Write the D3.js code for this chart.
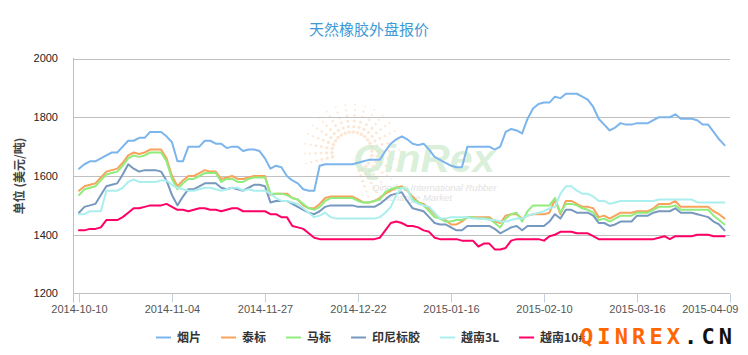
<!DOCTYPE html>
<html><head><meta charset="utf-8">
<script src="https://cdn.jsdelivr.net/npm/d3@7"></script>
<style>body{margin:0;background:#fff}svg{display:block}</style>
</head><body><svg id="c" width="748" height="355"></svg>
<script>
// ---------------- data ----------------
const chartTitle = "天然橡胶外盘报价";
const yTitle = "单位 (美元/吨)";
const xLabels = ["2014-10-10","2014-11-04","2014-11-27","2014-12-22","2015-01-16","2015-02-10","2015-03-16","2015-04-09"];
const labelStep = 17;
const yTicks = [1200, 1400, 1600, 1800, 2000];
const seriesNames = ["烟片","泰标","马标","印尼标胶","越南3L","越南10#"];
const seriesColors = ["#7cb5ec","#f7a35c","#90ed7d","#7798BF","#aaeeee","#ff0066"];

const yanpian = [1625,1640,1650,1650,1660,1670,1680,1680,1700,1720,
1720,1730,1730,1750,1750,1750,1735,1715,1650,1650,
1700,1700,1700,1720,1720,1710,1710,1695,1700,1700,
1685,1690,1690,1685,1660,1625,1635,1630,1600,1585,
1575,1555,1550,1550,1635,1640,1640,1640,1640,1640,
1640,1645,1650,1655,1655,1655,1685,1710,1725,1735,
1725,1710,1705,1710,1690,1665,1655,1645,1635,1630,
1630,1700,1700,1700,1700,1700,1690,1700,1750,1760,
1755,1745,1795,1830,1845,1850,1850,1870,1865,1880,
1880,1880,1870,1860,1835,1795,1775,1755,1765,1780,
1775,1775,1780,1780,1780,1790,1800,1800,1800,1810,
1795,1795,1795,1790,1775,1775,1750,1725,1705];

const taibiao = [1550,1565,1570,1575,1595,1615,1620,1625,1645,1670,
1680,1675,1680,1690,1690,1690,1660,1600,1565,1585,
1600,1600,1610,1620,1615,1615,1590,1595,1600,1590,
1590,1595,1600,1600,1600,1535,1540,1540,1540,1525,
1520,1500,1490,1490,1505,1525,1530,1530,1530,1530,
1530,1520,1510,1510,1515,1525,1540,1550,1560,1565,
1550,1530,1510,1505,1490,1470,1455,1450,1435,1435,
1445,1460,1460,1460,1460,1460,1445,1440,1465,1470,
1470,1455,1465,1470,1470,1470,1475,1520,1470,1515,
1515,1505,1495,1495,1490,1460,1465,1455,1465,1475,
1475,1475,1480,1480,1480,1490,1505,1505,1505,1515,
1495,1495,1495,1495,1495,1495,1480,1470,1455];

const mabiao = [1535,1555,1560,1565,1585,1605,1610,1615,1635,1660,
1670,1665,1670,1680,1680,1680,1650,1590,1555,1575,
1590,1590,1600,1610,1610,1610,1580,1590,1590,1580,
1580,1590,1595,1595,1595,1540,1540,1540,1535,1525,
1520,1505,1490,1485,1495,1515,1525,1525,1525,1525,
1525,1515,1510,1510,1515,1520,1545,1555,1560,1560,
1555,1520,1510,1500,1480,1460,1455,1445,1445,1450,
1450,1460,1460,1455,1455,1455,1440,1425,1455,1470,
1475,1445,1480,1500,1500,1500,1500,1525,1475,1505,
1505,1500,1490,1485,1475,1450,1455,1445,1455,1465,
1465,1465,1475,1475,1475,1485,1495,1495,1495,1500,
1485,1485,1485,1485,1485,1485,1465,1450,1435];

const yinni = [1475,1495,1500,1505,1535,1565,1570,1575,1605,1640,
1625,1615,1620,1620,1620,1615,1585,1535,1500,1530,
1555,1555,1565,1575,1575,1575,1560,1555,1560,1555,
1550,1560,1570,1570,1565,1510,1515,1515,1515,1505,
1495,1485,1475,1470,1480,1495,1500,1500,1500,1500,
1500,1495,1495,1495,1495,1505,1520,1535,1540,1545,
1515,1490,1485,1480,1460,1440,1435,1435,1425,1415,
1415,1430,1430,1430,1430,1430,1420,1405,1415,1425,
1430,1415,1430,1430,1430,1430,1445,1470,1455,1485,
1485,1475,1475,1475,1465,1440,1440,1430,1435,1445,
1445,1445,1465,1465,1465,1475,1480,1480,1480,1490,
1475,1475,1475,1470,1465,1460,1445,1435,1415];

const yuenan3L = [1470,1470,1480,1480,1480,1550,1550,1550,1560,1580,
1588,1580,1580,1580,1580,1585,1585,1570,1560,1555,
1550,1550,1555,1560,1560,1555,1550,1555,1560,1560,
1550,1555,1550,1550,1550,1540,1525,1515,1515,1510,
1505,1490,1475,1460,1465,1475,1460,1455,1455,1455,
1455,1455,1455,1455,1455,1460,1475,1495,1535,1560,
1555,1515,1505,1500,1495,1475,1455,1455,1460,1460,
1460,1460,1455,1455,1455,1450,1450,1445,1445,1450,
1455,1455,1465,1470,1475,1480,1490,1495,1540,1565,
1565,1550,1540,1540,1530,1515,1515,1505,1510,1515,
1515,1515,1515,1515,1515,1515,1520,1520,1520,1520,
1520,1520,1520,1510,1510,1510,1510,1510,1510];

const yuenan10 = [1415,1415,1420,1420,1425,1450,1450,1450,1460,1475,
1490,1490,1495,1500,1500,1500,1505,1495,1485,1485,
1480,1485,1490,1490,1485,1485,1480,1485,1490,1490,
1480,1480,1480,1480,1480,1470,1470,1460,1460,1430,
1425,1420,1405,1390,1385,1385,1385,1385,1385,1385,
1385,1385,1385,1385,1385,1390,1415,1440,1445,1440,
1430,1430,1425,1415,1410,1390,1385,1385,1385,1385,
1380,1380,1380,1360,1370,1370,1350,1350,1355,1380,
1385,1385,1385,1385,1385,1380,1395,1400,1410,1410,
1410,1405,1405,1405,1395,1385,1385,1385,1385,1385,
1385,1385,1385,1385,1385,1385,1390,1395,1385,1395,
1395,1395,1395,1400,1400,1400,1395,1395,1395];

const seriesData = [yanpian, taibiao, mabiao, yinni, yuenan3L, yuenan10];

// ---------------- drawing ----------------
const svg = d3.select("#c");
const nSlots = (xLabels.length - 1) * labelStep; // last label slot
const x = d3.scaleLinear().domain([-1, nSlots]).range([73.5, 730]);
const y = d3.scaleLinear().domain([1200, 2000]).range([293.5, 58.5]);
const left = x(-1), right = x(nSlots);

// title
svg.append("text").attr("x", 369).attr("y", 35).attr("text-anchor", "middle")
  .attr("font-family", "Noto Sans CJK SC, sans-serif").attr("font-size", 15)
  .attr("fill", "#3d9ad6").text(chartTitle);

// watermark logo (behind lines)
const wm = svg.append("g");
const cx = 352, cy = 152;
for (let a = -70; a <= 200; a += 12) {
  const rad = a * Math.PI / 180;
  for (let k = 0; k < 6; k++) {
    const r = 20 + k * 5.5;
    wm.append("circle").attr("cx", cx + r * Math.cos(rad)).attr("cy", cy - r * Math.sin(rad))
      .attr("r", 1.8 - k * 0.18).attr("fill", "#f8c9a2").attr("opacity", 0.45);
  }
}
wm.append("text").attr("x", 353).attr("y", 172).attr("font-family", "Liberation Sans, Arial, sans-serif")
  .attr("font-size", 38).attr("font-weight", "bold").attr("font-style", "italic")
  .attr("textLength", 142).attr("lengthAdjust", "spacingAndGlyphs")
  .attr("fill", "#cfeccf").attr("opacity", 0.75).text("QinRex");
wm.append("text").attr("x", 372).attr("y", 191).attr("font-family", "Liberation Sans, Arial, sans-serif")
  .attr("font-size", 9.5).attr("font-style", "italic").attr("fill", "#e2e2e2").text("Qingdao International Rubber");
wm.append("text").attr("x", 378).attr("y", 201).attr("font-family", "Liberation Sans, Arial, sans-serif")
  .attr("font-size", 9.5).attr("font-style", "italic").attr("fill", "#e2e2e2").text("Exchange Market");

// grid lines
svg.append("g").selectAll("line").data(yTicks.filter(v => v > 1200)).join("line")
  .attr("x1", left).attr("x2", right)
  .attr("y1", d => Math.round(y(d)) + 0.5).attr("y2", d => Math.round(y(d)) + 0.5)
  .attr("stroke", "#c0c0c0").attr("stroke-width", 1);

// y axis labels
svg.append("g").selectAll("text").data(yTicks).join("text")
  .attr("x", 58).attr("y", d => y(d)).attr("dy", "0.35em").attr("text-anchor", "end")
  .attr("font-family", "Liberation Sans, Arial, sans-serif").attr("font-size", 11)
  .attr("fill", "#222").text(d => d);

// y axis title
svg.append("text").attr("transform", "translate(24,176) rotate(-90)").attr("text-anchor", "middle")
  .attr("font-family", "Noto Sans CJK SC, sans-serif").attr("font-size", 12).attr("font-weight", "bold")
  .attr("fill", "#444").text(yTitle);

// x axis
const tickIdx = xLabels.map((d, i) => i * labelStep);
const xAxis = d3.axisBottom(x).tickValues(tickIdx).tickSize(9).tickPadding(3)
  .tickFormat((d, i) => xLabels[i]);
const gx = svg.append("g").attr("transform", "translate(0,293.5)").call(xAxis);
gx.select(".domain").remove();
gx.selectAll(".tick line").attr("stroke", "#c0d0e0");
gx.selectAll(".tick text").attr("font-family", "Liberation Sans, Arial, sans-serif")
  .attr("font-size", 11).attr("fill", "#555");
// keep last label inside the chart
gx.selectAll(".tick text").each(function (d) {
  const w = this.getComputedTextLength();
  const edge = x(d) + w / 2;
  if (edge > 738) d3.select(this).attr("x", 738 - edge);
});
svg.append("line").attr("x1", left).attr("x2", right).attr("y1", 293.5).attr("y2", 293.5)
  .attr("stroke", "#c0c0c0");
svg.append("line").attr("x1", left).attr("x2", left).attr("y1", 58).attr("y2", 302.5)
  .attr("stroke", "#c0c0c0");

// series lines
const line = d3.line().x((d, i) => x(i)).y(d => y(d));
svg.append("g").selectAll("path").data(seriesData).join("path")
  .attr("d", d => line(d)).attr("fill", "none")
  .attr("stroke", (d, i) => seriesColors[i]).attr("stroke-width", 2)
  .attr("stroke-linejoin", "round").attr("stroke-linecap", "round");

// legend
const lg = svg.append("g");
let lx = 156;
seriesNames.forEach((name, i) => {
  lg.append("line").attr("x1", lx).attr("x2", lx + 15).attr("y1", 337.5).attr("y2", 337.5)
    .attr("stroke", seriesColors[i]).attr("stroke-width", 2);
  const t = lg.append("text").attr("x", lx + 21).attr("y", 342)
    .attr("font-family", "Noto Sans CJK SC, sans-serif").attr("font-size", 12).attr("font-weight", "bold")
    .attr("fill", "#333").text(name);
  lx += 21 + t.node().getComputedTextLength() + 20;
});

// site mark
const sm = svg.append("text").attr("x", 580).attr("y", 344)
  .attr("font-family", "DejaVu Sans Mono, monospace").attr("font-size", 22).attr("font-weight", "bold")
  .attr("textLength", 152).attr("lengthAdjust", "spacing");
sm.append("tspan").attr("fill", "#ff6600").text("QINREX");
sm.append("tspan").attr("fill", "#111").text(".CN");
</script></body></html>
